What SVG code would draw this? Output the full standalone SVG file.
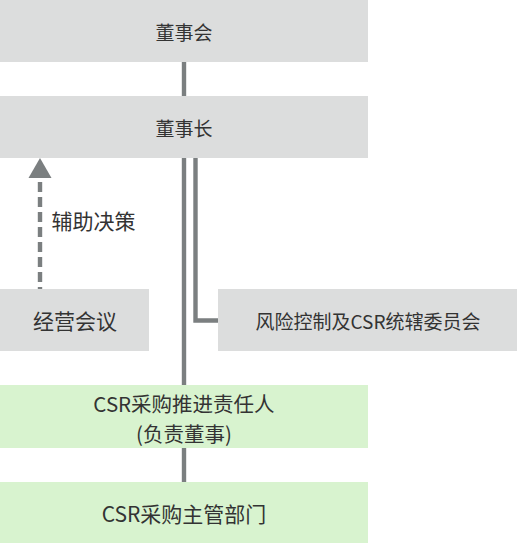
<svg xmlns="http://www.w3.org/2000/svg" width="520" height="546" viewBox="0 0 520 546">
<style>
.gray{fill:#dcdddd}
.green{fill:#d8f3cf}
.t{font-family:"Noto Sans CJK SC","Noto Sans",sans-serif;fill:#333333;text-anchor:middle;dominant-baseline:central}
.s19{font-size:19px}
.s21{font-size:21px}
.s205{font-size:20.5px}
.ln{stroke:#7b7f80;stroke-width:4.4;fill:none}
</style>
<rect width="520" height="546" fill="#ffffff"/>
<g id="connectors">
<line class="ln" x1="184" y1="62" x2="184" y2="96"/>
<line class="ln" x1="184" y1="158" x2="184" y2="385"/>
<path class="ln" d="M195.5 158 V320.5 H218"/>
<line class="ln" x1="184" y1="448" x2="184" y2="482"/>
<path class="ln" d="M40 182 V289" stroke-dasharray="10 5"/>
<polygon points="40,158 28.5,178 51.5,178" fill="#7b7f80"/>
<text class="t s21" x="93.5" y="220">辅助决策</text>
</g>
<g id="board">
<rect class="gray" x="0" y="0" width="368" height="62"/>
<text class="t s19" x="184" y="31">董事会</text>
</g>
<g id="chairman">
<rect class="gray" x="0" y="96" width="368" height="62"/>
<text class="t s19" x="184" y="127">董事长</text>
</g>
<g id="meeting">
<rect class="gray" x="0" y="289" width="149" height="62"/>
<text class="t s21" x="75" y="320">经营会议</text>
</g>
<g id="committee">
<rect class="gray" x="218" y="289" width="299" height="62"/>
<text class="t s19" x="368" y="320">风险控制及CSR统辖委员会</text>
</g>
<g id="csr-officer">
<rect class="green" x="0" y="385" width="368" height="63"/>
<text class="t s205" x="184" y="403">CSR采购推进责任人<tspan x="184" dy="30">(负责董事)</tspan></text>
</g>
<g id="csr-dept">
<rect class="green" x="0" y="482" width="368" height="61"/>
<text class="t s21" x="184" y="513">CSR采购主管部门</text>
</g>
</svg>
